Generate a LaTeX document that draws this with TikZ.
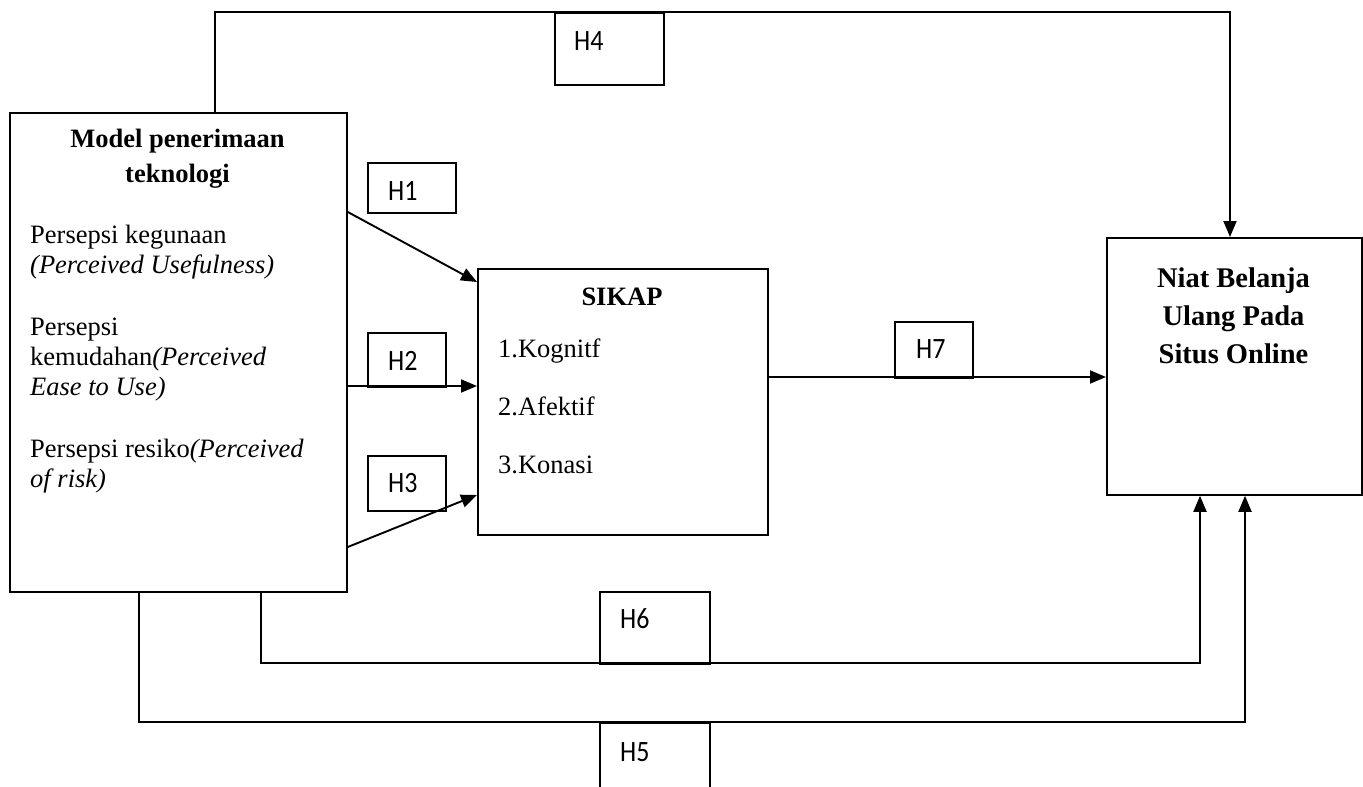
\documentclass[tikz,border=0pt]{standalone}
\usepackage{fontspec}
\setmainfont{Liberation Serif}
\newfontfamily\hfont{Carlito}
\usetikzlibrary{arrows.meta,calc}
\newcommand{\hlab}[1]{\scalebox{0.88}[1]{#1}}
\begin{document}
\begin{tikzpicture}[x=1pt,y=-1pt,
  box/.style={draw, line width=1.8pt, inner sep=0pt, anchor=north west},
  hbox/.style={draw, line width=1.5pt, inner sep=0pt, anchor=north west},
  arr/.style={line width=1.9pt, -{Triangle[length=16pt,width=13pt]}},
  txt/.style={inner sep=0pt, anchor=base west, font=\fontsize{26.5}{30}\selectfont},
  btxt/.style={inner sep=0pt, anchor=base, font=\fontsize{26.5}{30}\selectfont\bfseries},
  ntxt/.style={inner sep=0pt, anchor=base, font=\fontsize{28.5}{38}\selectfont\bfseries},
  htxt/.style={inner sep=0pt, anchor=base west, font=\hfont\fontsize{29.5}{32}\selectfont}]
\useasboundingbox (0,0) rectangle (1363,787);

% main boxes
\node[box, minimum width=337pt, minimum height=479pt] (model) at (9,112) {};
\node[box, minimum width=290pt, minimum height=266pt] (sikap) at (477,268) {};
\node[box, minimum width=255pt, minimum height=257pt] (niat) at (1106,237) {};

% left box text
\node[btxt] (m1) at (177.5,147) {Model penerimaan};
\node[btxt] (m2) at (177.5,182) {teknologi};
\node[txt] (p1a) at (30,243) {Persepsi kegunaan};
\node[txt] (p1b) at (30,273) {\textit{(Perceived Usefulness)}};
\node[txt] (p2a) at (30,335) {Persepsi};
\node[txt] (p2b) at (30,365) {kemudahan\textit{(Perceived}};
\node[txt] (p2c) at (30,395) {\textit{Ease to Use)}};
\node[txt] (p3a) at (30,457) {Persepsi resiko\textit{(Perceived}};
\node[txt] (p3b) at (30,487) {\textit{of risk)}};

% sikap text
\node[btxt] (sk) at (622,305) {SIKAP};
\node[txt] (k1) at (498,357) {1.Kognitf};
\node[txt] (k2) at (498,415) {2.Afektif};
\node[txt] (k3) at (498,473) {3.Konasi};

% niat text
\node[ntxt] (n1) at (1233.5,287) {Niat Belanja};
\node[ntxt] (n2) at (1233.5,325) {Ulang Pada};
\node[ntxt] (n3) at (1233.5,363) {Situs Online};

% connectors
\coordinate (c4a) at (215,12);
\coordinate (c4b) at (1230,12);
\draw[arr] (model.north -| c4a) -- (c4a) -- (c4b) -- (niat.north -| c4b);

\draw[arr] ($(model.north east)+(0,100)$) -- ($(sikap.north west)+(0,14)$);
\draw[arr] ($(model.north east)+(0,274)$) -- ($(sikap.north west)+(0,118)$);
\draw[arr] ($(model.north east)+(0,435)$) -- ($(sikap.north west)+(0,227)$);
\draw[arr] ($(sikap.north east)+(0,109)$) -- ($(niat.north west)+(0,140)$);

\coordinate (c6) at (1200,663);
\draw[arr] ($(model.south west)+(252,0)$) |- (c6) -- (niat.south -| c6);
\coordinate (c5) at (1245,722);
\draw[arr] ($(model.south west)+(130,0)$) |- (c5) -- (niat.south -| c5);

% hypothesis boxes
\node[hbox, minimum width=109pt, minimum height=72pt] (h4) at (554,12) {};
\node[hbox, minimum width=88pt, minimum height=50pt] (h1) at (367,162) {};
\node[hbox, minimum width=78pt, minimum height=54pt] (h2) at (367,332) {};
\node[hbox, minimum width=78pt, minimum height=55pt] (h3) at (367,455) {};
\node[hbox, minimum width=78pt, minimum height=56pt] (h7) at (894,321) {};
\node[hbox, minimum width=110pt, minimum height=72pt] (h6) at (599,591) {};
\node[hbox, minimum width=110pt, minimum height=75pt] (h5) at (599,722) {};

\node[htxt] (l4) at (574,50) {\hlab{H4}};
\node[htxt] (l1) at (388,200) {\hlab{H1}};
\node[htxt] (l2) at (388,370) {\hlab{H2}};
\node[htxt] (l3) at (388,492) {\hlab{H3}};
\node[htxt] (l7) at (916,358) {\hlab{H7}};
\node[htxt] (l6) at (620,628) {\hlab{H6}};
\node[htxt] (l5) at (620,761) {\hlab{H5}};
\end{tikzpicture}
\end{document}
